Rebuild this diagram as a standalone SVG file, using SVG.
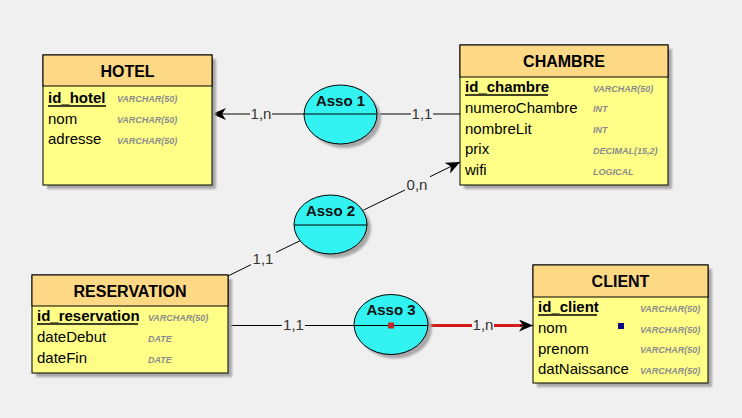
<svg xmlns="http://www.w3.org/2000/svg" width="742" height="418" viewBox="0 0 742 418">
<defs>
<filter id="blur" x="-10%" y="-10%" width="130%" height="130%"><feGaussianBlur stdDeviation="1.2"/></filter>
<marker id="arr" viewBox="0 -6 14 12" refX="14" refY="0" markerWidth="14" markerHeight="12" markerUnits="userSpaceOnUse" orient="auto">
<path d="M14,0 L0,-6 L4,0 L0,6 Z" fill="#000"/>
</marker>
</defs>
<style>
.shadow{fill:#a8a8a8;filter:url(#blur)}
.body{fill:#ffff88;stroke:#000;stroke-width:1}
.head{fill:#fdd885;stroke:#000;stroke-width:1}
.title{font-family:"Liberation Sans",Arial,sans-serif;font-weight:bold;font-size:16px;fill:#000;text-anchor:middle}
.attr{font-family:"Liberation Sans",Arial,sans-serif;font-size:15px;fill:#000}
.key{font-weight:bold}
.type{font-family:"Liberation Sans",Arial,sans-serif;font-size:9px;font-weight:bold;font-style:italic;fill:#8c8c8c}
.ul{stroke:#000;stroke-width:1.5}
.asso{fill:#33f2f2;stroke:#000;stroke-width:1}
.aname{font-family:"Liberation Sans",Arial,sans-serif;font-weight:bold;font-size:15px;fill:#111;text-anchor:middle}
.lnk{stroke:#000;stroke-width:1;fill:none}
.red{stroke:#d41a1a;stroke-width:3;fill:none}
.card{font-family:"Liberation Sans",Arial,sans-serif;font-size:15px;fill:#333;text-anchor:middle}
</style>
<rect width="742" height="418" fill="#f0f0f0"/>

<g id="connectors">
<line class="lnk" x1="250" y1="114" x2="212" y2="114" marker-end="url(#arr)"/>
<line class="lnk" x1="272" y1="114" x2="411" y2="114"/>
<line class="lnk" x1="433" y1="114" x2="460" y2="114"/>
<text class="card" x="261" y="119">1,n</text>
<text class="card" x="422" y="119">1,1</text>

<line class="lnk" x1="228" y1="276" x2="251" y2="264.7"/>
<line class="lnk" x1="276" y1="252.4" x2="405" y2="190"/>
<line class="lnk" x1="430" y1="176.7" x2="460" y2="162" marker-end="url(#arr)"/>
<text class="card" x="263" y="264">1,1</text>
<text class="card" x="417" y="190">0,n</text>

<line class="lnk" x1="228" y1="325.5" x2="282" y2="325.5"/>
<line class="lnk" x1="305" y1="325.5" x2="354" y2="325.5"/>
<line class="red" x1="428" y1="325.5" x2="472" y2="325.5"/>
<line class="red" x1="494" y1="325.5" x2="522" y2="325.5"/>
<line class="lnk" x1="520" y1="325.5" x2="533" y2="325.5" marker-end="url(#arr)"/>
<text class="card" x="293.5" y="330">1,1</text>
<text class="card" x="483" y="330">1,n</text>
</g>

<g id="asso1">
<ellipse class="shadow" cx="344.5" cy="118.5" rx="36.5" ry="29.5"/>
<ellipse class="asso" cx="340.5" cy="114.5" rx="36.5" ry="29.5"/>
<line class="lnk" x1="304" y1="114" x2="377" y2="114"/>
<text class="aname" x="340.5" y="106">Asso 1</text>
</g>

<g id="asso2">
<ellipse class="shadow" cx="334.5" cy="228.5" rx="36.5" ry="29.5"/>
<ellipse class="asso" cx="330.5" cy="224.5" rx="36.5" ry="29.5"/>
<line class="lnk" x1="294" y1="225" x2="367" y2="225"/>
<text class="aname" x="330.5" y="216">Asso 2</text>
</g>

<g id="asso3">
<ellipse class="shadow" cx="395" cy="328.5" rx="37" ry="30"/>
<ellipse class="asso" cx="391" cy="324.5" rx="37" ry="30"/>
<line class="lnk" x1="354" y1="325.5" x2="428" y2="325.5"/>
<text class="aname" x="391" y="315">Asso 3</text>
<rect x="388" y="322.5" width="6" height="6" fill="#c02828"/>
</g>

<g id="hotel">
<rect class="shadow" x="47" y="59" width="169" height="130"/>
<rect class="body" x="43" y="55" width="169" height="130"/>
<rect class="head" x="43" y="55" width="169" height="31"/>
<text class="title" x="127.5" y="77">HOTEL</text>
<text class="attr key" x="48" y="103">id_hotel</text>
<line class="ul" x1="48" y1="106" x2="106" y2="106"/>
<text class="type" x="117" y="102">VARCHAR(50)</text>
<text class="attr" x="48" y="123.5">nom</text>
<text class="type" x="117" y="123">VARCHAR(50)</text>
<text class="attr" x="48" y="144">adresse</text>
<text class="type" x="117" y="143.5">VARCHAR(50)</text>
</g>

<g id="chambre">
<rect class="shadow" x="464" y="49" width="208" height="140"/>
<rect class="body" x="460" y="45" width="208" height="140"/>
<rect class="head" x="460" y="45" width="208" height="32"/>
<text class="title" x="564" y="67">CHAMBRE</text>
<text class="attr key" x="465" y="92">id_chambre</text>
<line class="ul" x1="465" y1="95" x2="548" y2="95"/>
<text class="type" x="593" y="91.5">VARCHAR(50)</text>
<text class="attr" x="465" y="113">numeroChambre</text>
<text class="type" x="593" y="112">INT</text>
<text class="attr" x="465" y="133.5">nombreLit</text>
<text class="type" x="593" y="133">INT</text>
<text class="attr" x="465" y="154">prix</text>
<text class="type" x="593" y="153.5">DECIMAL(15,2)</text>
<text class="attr" x="465" y="175">wifi</text>
<text class="type" x="593" y="174.5">LOGICAL</text>
</g>

<g id="reservation">
<rect class="shadow" x="36" y="279" width="196" height="98"/>
<rect class="body" x="32" y="275" width="196" height="98"/>
<rect class="head" x="32" y="275" width="196" height="31"/>
<text class="title" x="130" y="297">RESERVATION</text>
<text class="attr key" x="37" y="321">id_reservation</text>
<line class="ul" x1="37" y1="324" x2="138" y2="324"/>
<text class="type" x="148" y="320.5">VARCHAR(50)</text>
<text class="attr" x="37" y="342">dateDebut</text>
<text class="type" x="148" y="342">DATE</text>
<text class="attr" x="37" y="363">dateFin</text>
<text class="type" x="148" y="363">DATE</text>
</g>

<g id="client">
<rect class="shadow" x="537" y="269" width="175" height="118"/>
<rect class="body" x="533" y="265" width="175" height="118"/>
<rect class="head" x="533" y="265" width="175" height="32"/>
<text class="title" x="620.5" y="287">CLIENT</text>
<text class="attr key" x="538" y="312">id_client</text>
<line class="ul" x1="538" y1="315" x2="597" y2="315"/>
<text class="type" x="640" y="311.5">VARCHAR(50)</text>
<text class="attr" x="538" y="333">nom</text>
<rect x="618" y="323" width="6" height="6" fill="#0a0a80"/>
<text class="type" x="640" y="332.5">VARCHAR(50)</text>
<text class="attr" x="538" y="353.5">prenom</text>
<text class="type" x="640" y="353">VARCHAR(50)</text>
<text class="attr" x="538" y="374">datNaissance</text>
<text class="type" x="640" y="373.5">VARCHAR(50)</text>
</g>
</svg>
